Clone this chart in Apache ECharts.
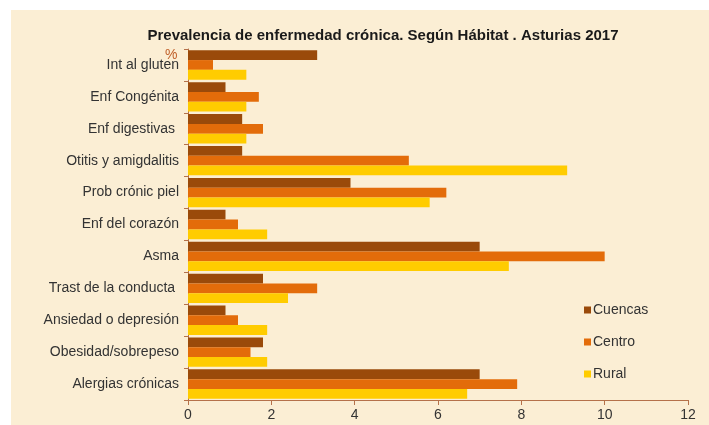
<!DOCTYPE html>
<html>
<head>
<meta charset="utf-8">
<script src="https://cdn.jsdelivr.net/npm/echarts@6/dist/echarts.min.js"></script>
<style>
  html, body { margin: 0; padding: 0; background: #ffffff; }
  .box {
    position: absolute;
    left: 11px;
    top: 10px;
    width: 698px;
    height: 415px;
    background: #fbeed4;
  }
</style>
</head>
<body>
<div id="box" class="box"></div>
<script>
// categorias (de arriba a abajo)
var categorias = ['Int al gluten', 'Enf Congénita', 'Enf digestivas ', 'Otitis y amigdalitis', 'Prob crónic piel',
  'Enf del corazón', 'Asma', 'Trast de la conducta ', 'Ansiedad o depresión', 'Obesidad/sobrepeso', 'Alergias crónicas']
var cuencas = [3.1, 0.9, 1.3, 1.3, 3.9, 0.9, 7.0, 1.8, 0.9, 1.8, 7.0]
var centro = [0.6, 1.7, 1.8, 5.3, 6.2, 1.2, 10.0, 3.1, 1.2, 1.5, 7.9]
var rural = [1.4, 1.4, 1.4, 9.1, 5.8, 1.9, 7.7, 2.4, 1.9, 1.9, 6.7]
var ticksX = [0, 2, 4, 6, 8, 10, 12]

var fuente = '"Liberation Sans Narrow", "Arial Narrow", "Liberation Sans", sans-serif'
var chart = echarts.init(document.getElementById('box'))

var option = {
  backgroundColor: 'transparent',
  textStyle: { fontFamily: fuente },
  title: [
    {
      text: 'Prevalencia de enfermedad crónica. Según Hábitat . Asturias 2017',
      left: 367,
      top: 13,
      textAlign: 'center',
      textStyle: { fontFamily: fuente, fontSize: 15, fontWeight: 'bold', color: '#1a1a1a' }
    },
    {
      text: '%',
      left: 149,
      top: 33,
      textStyle: { fontFamily: fuente, fontSize: 14, fontWeight: 'normal', color: '#c0602a' }
    }
  ],
  legend: {
    orient: 'vertical',
    left: 568,
    top: 288,
    itemWidth: 7,
    itemHeight: 7,
    itemGap: 18,
    icon: 'rect',
    textStyle: { fontFamily: fuente, fontSize: 14, color: '#333333', padding: [0, 0, 0, -3] },
    data: ['Cuencas', 'Centro', 'Rural']
  },
  grid: { left: 177, top: 39, right: 21, bottom: 25, containLabel: false },
  xAxis: {
    type: 'value',
    min: 0,
    max: 12,
    interval: 2,
    axisLine: { show: true, lineStyle: { color: '#b5714a', width: 1 } },
    axisTick: { show: true, length: 5, lineStyle: { color: '#b5714a' } },
    splitLine: { show: false },
    axisLabel: {
      fontFamily: fuente, fontSize: 14, color: '#333333', margin: 8,
      formatter: function (v) { return ticksX.indexOf(v) >= 0 ? String(v) : '' }
    }
  },
  yAxis: {
    type: 'category',
    inverse: true,
    data: categorias,
    axisLine: { show: true, lineStyle: { color: '#b5714a', width: 1 } },
    axisTick: { show: true, length: 4, lineStyle: { color: '#b5714a' } },
    axisLabel: { fontFamily: fuente, fontSize: 14, color: '#333333', margin: 9 }
  },
  series: [
    { name: 'Cuencas', type: 'bar', data: cuencas, itemStyle: { color: '#9a4a0a' }, barCategoryGap: '8%', barGap: '0%' },
    { name: 'Centro', type: 'bar', data: centro, itemStyle: { color: '#e36c0a' }, barCategoryGap: '8%', barGap: '0%' },
    { name: 'Rural', type: 'bar', data: rural, itemStyle: { color: '#ffcc00' }, barCategoryGap: '8%', barGap: '0%' }
  ]
}
chart.setOption(option)
</script>
</body>
</html>
